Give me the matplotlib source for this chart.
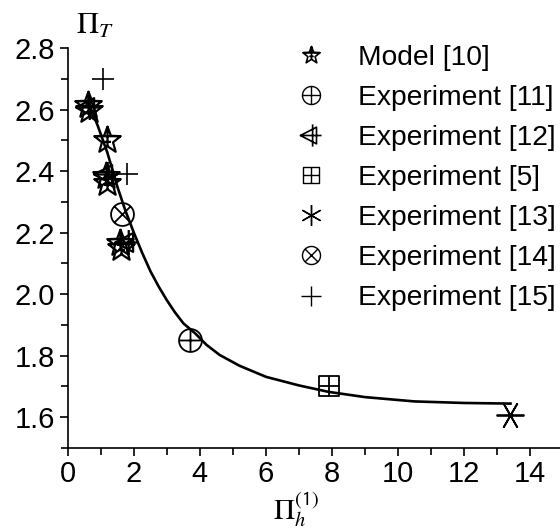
import numpy as np
import matplotlib
matplotlib.use("Agg")
import matplotlib.pyplot as plt
from matplotlib.path import Path
from matplotlib.lines import Line2D

plt.rcParams['font.family'] = ['Liberation Sans', 'DejaVu Sans']
plt.rcParams['mathtext.fontset'] = 'stix'

# fitted curve
curve_x = [0.62, 0.9, 1.2, 1.5, 1.75, 2.0, 2.25, 2.5, 2.75, 3.0, 3.25, 3.5, 3.86, 4.2, 4.6, 5.2,
           6.0, 7.0, 7.9, 9.0, 10.5, 12.0, 13.4]
curve_y = [2.625, 2.55, 2.46, 2.35, 2.27, 2.20, 2.135, 2.075, 2.025, 1.98, 1.94, 1.905, 1.872, 1.835,
           1.802, 1.767, 1.731, 1.703, 1.682, 1.665, 1.651, 1.646, 1.644]

# data points per source
model_x = [0.62, 0.65, 1.18, 1.15, 1.20, 1.58, 1.62]
model_y = [2.615, 2.60, 2.50, 2.385, 2.36, 2.165, 2.15]
exp11_x, exp11_y = [3.7], [1.85]
exp12_x = [0.62, 1.15, 1.80]
exp12_y = [2.61, 2.39, 2.17]
exp5_x, exp5_y = [7.9], [1.70]
exp13_x, exp13_y = [13.4], [1.607]
exp14_x, exp14_y = [1.64], [2.26]
exp15_x = [1.08, 1.79]
exp15_y = [2.70, 2.39]

labels = ["Model [10]", "Experiment [11]", "Experiment [12]", "Experiment [5]",
          "Experiment [13]", "Experiment [14]", "Experiment [15]"]


def join(*parts):
    verts, codes = [], []
    for v, c in parts:
        verts += list(v)
        codes += list(c)
    return Path(verts, codes)


def seg(p0, p1):
    return [p0, p1], [Path.MOVETO, Path.LINETO]


def poly(pts):
    pts = list(pts)
    return pts + [pts[0]], [Path.MOVETO] + [Path.LINETO] * (len(pts) - 1) + [Path.CLOSEPOLY]


t = np.linspace(0, 2 * np.pi, 40, endpoint=False)
circle = [(np.cos(a), np.sin(a)) for a in t]
d = 0.707

circ_plus = join(poly(circle), seg((-1, 0), (1, 0)), seg((0, -1), (0, 1)))
circ_x = join(poly(circle), seg((-d, -d), (d, d)), seg((-d, d), (d, -d)))
sq_plus = join(poly([(-1, -1), (1, -1), (1, 1), (-1, 1)]), seg((-1, 0), (1, 0)), seg((0, -1), (0, 1)))
tri_plus = join(poly([(-1, 0), (0.45, 0.75), (0.45, -0.75)]), seg((-1, 0), (0.9, 0)), seg((0.1, -1), (0.1, 1)))
star_pts = []
for k in range(10):
    r = 1.0 if k % 2 == 0 else 0.42
    a = np.pi / 2 + k * np.pi / 5
    star_pts.append((r * np.cos(a), r * np.sin(a)))
star = join(poly(star_pts), seg((-0.95, 0.31), (0.95, 0.31)), seg((-0.25, -0.1), (0.25, -0.1)),
            seg((0, 1), (0, -0.45)))

fig = plt.figure(figsize=(5.6, 5.3), dpi=100)
ax = fig.add_axes([0.121, 0.155, 0.885, 0.754])

ax.plot(curve_x, curve_y, color='black', lw=1.9, zorder=2)

kw = dict(ls='none', color='black', mfc='none', zorder=3)
ax.plot(model_x, model_y, marker=star, ms=20, mew=1.6, **kw)
ax.plot(exp11_x, exp11_y, marker=circ_plus, ms=16.5, mew=1.3, **kw)
ax.plot(exp12_x, exp12_y, marker=tri_plus, ms=18, mew=1.6, **kw)
ax.plot(exp5_x, exp5_y, marker=sq_plus, ms=14.5, mew=1.3, **kw)
ax.plot(exp13_x, exp13_y, marker=(6, 2, 90), ms=20, mew=1.3, **kw)
ax.plot(exp14_x, exp14_y, marker=circ_x, ms=16.5, mew=1.3, **kw)
ax.plot(exp15_x, exp15_y, marker='+', ms=16, mew=1.2, **kw)

handles = [
    Line2D([], [], marker=star, ms=13, mew=1.2, **kw),
    Line2D([], [], marker=circ_plus, ms=13, mew=1.0, **kw),
    Line2D([], [], marker=tri_plus, ms=16, mew=1.2, **kw),
    Line2D([], [], marker=sq_plus, ms=11, mew=1.0, **kw),
    Line2D([], [], marker=(6, 2, 0), ms=15, mew=1.0, **kw),
    Line2D([], [], marker=circ_x, ms=13, mew=1.0, **kw),
    Line2D([], [], marker='+', ms=14, mew=1.0, **kw),
]
ax.legend(handles, labels, loc='upper left', bbox_to_anchor=(0.505, 0.942),
          bbox_transform=fig.transFigure, frameon=False, fontsize=20.3,
          handlelength=1.03, handletextpad=1.15, labelspacing=0.5, borderpad=0)

ax.set_xlim(0, 15)
ax.set_ylim(1.5, 2.8)
ax.set_xticks(np.arange(0, 15, 2))
ax.set_xticks(np.arange(1, 15, 2), minor=True)
ax.set_yticks(np.arange(1.6, 2.81, 0.2))
ax.set_yticks(np.arange(1.5, 2.8, 0.2), minor=True)
ax.set_yticklabels([f"{v:.1f}" for v in np.arange(1.6, 2.81, 0.2)])
for s in ['top', 'right']:
    ax.spines[s].set_visible(False)
ax.spines['left'].set_linewidth(1.2)
ax.spines['bottom'].set_linewidth(1.2)
ax.tick_params(which='both', direction='out', labelsize=21, width=1.2, length=6, pad=3)
ax.tick_params(which='minor', length=5)

fig.text(0.135, 0.952, r'$\Pi_T$', fontsize=22, ha='left', va='center')
fig.text(0.488, 0.04, r'$\Pi_{h}^{\mathsf{(1)}}$', fontsize=21, ha='left', va='center')

fig.savefig('out.png', dpi=100)
